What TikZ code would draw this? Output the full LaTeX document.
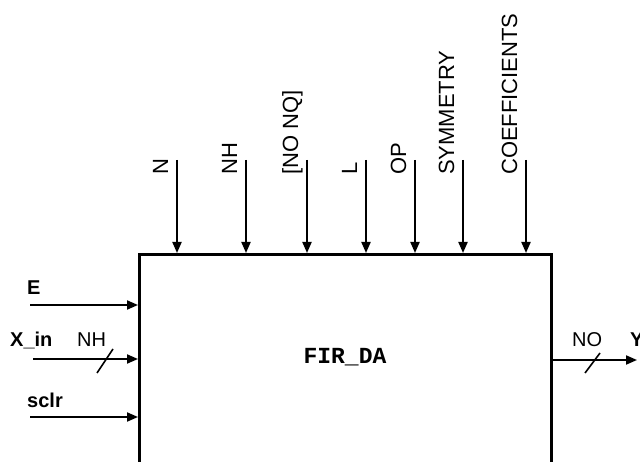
\documentclass[tikz,border=0pt]{standalone}
\usepackage{fontspec}
\setmainfont{Liberation Sans}
\newfontfamily\monofam{Liberation Mono}
\usetikzlibrary{arrows.meta}
\begin{document}
\begin{tikzpicture}[x=1pt,y=-1pt,
  lbl/.style={inner sep=0pt,font=\fontsize{20}{24}\selectfont},
  toplbl/.style={inner sep=0pt,font=\fontsize{22}{26}\selectfont,rotate=90,anchor=base west},
  sidelbl/.style={lbl,anchor=base west,font=\fontsize{20}{24}\selectfont\bfseries},
  sig/.style={line width=2pt,-{Triangle[length=11pt,width=9pt]}},
  slash/.style={line width=1.6pt}]
\useasboundingbox (0,0) rectangle (640,462);
\clip (0,0) rectangle (640,462);
% block
\node[draw,line width=3pt,minimum width=412pt,minimum height=300pt,anchor=north west,inner sep=0pt] (box) at (138,253) {};
\node[inner sep=0pt,anchor=base,font=\monofam\bfseries\fontsize{23}{26}\selectfont] (name) at (345,363) {FIR\_DA};
% top parameters
\foreach \nm/\xx/\tx in {pN/177/N, pNH/246/NH, pNQ/307/[NO NQ], pL/366/L, pOP/415/OP, pSY/463/SYMMETRY, pCO/526/COEFFICIENTS}{
  \coordinate (\nm) at (\xx,160);
  \node[toplbl] (\nm lab) at (\xx-9,175) {\tx};
  \draw[sig] (\nm) -- (\nm |- box.north);
}
% left inputs
\node[sidelbl] (E) at (27,295) {E};
\node[sidelbl] (Xin) at (10,347) {X\_in};
\node[sidelbl] (sclr) at (27,407) {sclr};
\node[lbl,anchor=base west] (NH) at (77,347) {NH};
\coordinate (eS) at (30,305);
\coordinate (xS) at (33,359);
\coordinate (sS) at (30,417);
\draw[sig] (eS) -- (eS -| box.west);
\draw[sig] (xS) -- (xS -| box.west);
\draw[sig] (sS) -- (sS -| box.west);
\coordinate (xs1) at (97,373);
\coordinate (xs2) at (113,349);
\draw[slash] (xs1) -- (xs2);
% output
\node[lbl,anchor=base west] (NO) at (572,347) {NO};
\node[sidelbl] (Y) at (630,347) {Y};
\coordinate (yE) at (637,360);
\draw[sig] (yE -| box.east) -- (yE);
\coordinate (ys1) at (585,373);
\coordinate (ys2) at (600,353);
\draw[slash] (ys1) -- (ys2);
\end{tikzpicture}
\end{document}
